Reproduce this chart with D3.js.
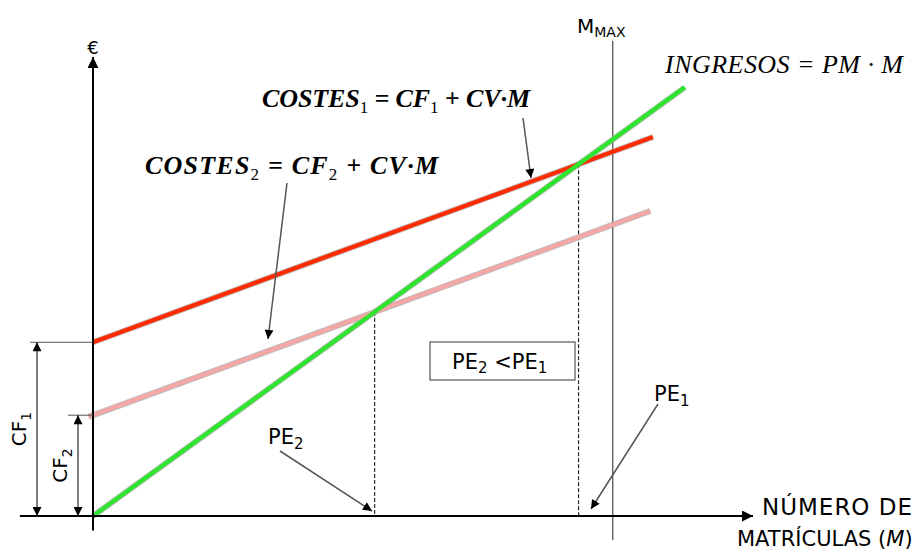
<!DOCTYPE html>
<html>
<head>
<meta charset="utf-8">
<script src="https://cdn.jsdelivr.net/npm/d3@7"></script>
<style>
  body { margin: 0; background: #fff; }
  svg { display: block; }
</style>
</head>
<body>
<div id="chart"></div>
<script>
// Lines of the break-even chart: € = CF + slope * M
const lineKeys = ["costes1", "costes2", "ingresos"];
const fixedCosts = [36.2, 21, 0];      // CF1, CF2, 0
const slopes = [0.42, 0.42, 0.83];     // CV, CV, PM
const startM = [0, -0.8, 0];
const endM = [101.8, 101.3, 107.6];
const lineColors = ["#ff2b00", "#f5a6a6", "#2de52d"];
const mMax = 94.5;

const width = 920, height = 550;

const svg = d3.select("#chart")
    .append("svg")
    .attr("width", width)
    .attr("height", height)
    .style("font-family", "'DejaVu Sans', Verdana, sans-serif");

const x = d3.scaleLinear().domain([0, 120]).range([93, 753]);
const y = d3.scaleLinear().domain([0, 100]).range([516, 36]);

const defs = svg.append("defs");
defs.append("marker")
    .attr("id", "head")
    .attr("viewBox", "0 0 10 10")
    .attr("refX", 10).attr("refY", 5)
    .attr("markerWidth", 11).attr("markerHeight", 11)
    .attr("markerUnits", "userSpaceOnUse")
    .attr("orient", "auto-start-reverse")
    .append("path")
    .attr("d", "M0,0 L10,5 L0,10 Z")
    .attr("fill", "#000");
defs.append("marker")
    .attr("id", "small")
    .attr("viewBox", "0 0 10 10")
    .attr("refX", 10).attr("refY", 5)
    .attr("markerWidth", 10).attr("markerHeight", 9)
    .attr("markerUnits", "userSpaceOnUse")
    .attr("orient", "auto-start-reverse")
    .append("path")
    .attr("d", "M0,0 L10,5 L0,10 Z")
    .attr("fill", "#000");

// MMAX vertical
svg.append("line")
    .attr("x1", x(mMax)).attr("x2", x(mMax))
    .attr("y1", y(99)).attr("y2", y(-5))
    .attr("stroke", "#444").attr("stroke-width", 1.2);

// break-even points
const pe = [0, 1].map(i => fixedCosts[i] / (slopes[2] - slopes[i]));
svg.selectAll("line.pe")
    .data(pe)
    .enter().append("line")
    .attr("class", "pe")
    .attr("x1", d => x(d)).attr("x2", d => x(d))
    .attr("y1", d => y(slopes[2] * d)).attr("y2", y(0))
    .attr("stroke", "#000").attr("stroke-width", 1)
    .attr("stroke-dasharray", "4,2");

// cost / revenue lines
const line = d3.line().x(d => x(d[0])).y(d => y(d[1]));
const lines = lineKeys.map((k, i) => ({
    key: k,
    color: lineColors[i],
    pts: [startM[i], endM[i]].map(m => [m, fixedCosts[i] + slopes[i] * m])
}));
svg.selectAll("path.edge")
    .data(lines)
    .enter().append("path")
    .attr("class", "edge")
    .attr("d", d => line(d.pts))
    .attr("stroke", "#a0a0a0").attr("stroke-opacity", 0.7)
    .attr("stroke-width", 6).attr("fill", "none");
svg.selectAll("path.main")
    .data(lines)
    .enter().append("path")
    .attr("class", "main")
    .attr("d", d => line(d.pts))
    .attr("stroke", d => d.color)
    .attr("stroke-width", 4.2).attr("fill", "none");

// axes
svg.append("line")
    .attr("x1", x(0)).attr("x2", x(0))
    .attr("y1", y(-3)).attr("y2", y(95.6))
    .attr("stroke", "#000").attr("stroke-width", 2)
    .attr("marker-end", "url(#head)");
svg.append("line")
    .attr("x1", x(-13.3)).attr("x2", x(120))
    .attr("y1", y(0)).attr("y2", y(0))
    .attr("stroke", "#000").attr("stroke-width", 2)
    .attr("marker-end", "url(#head)");

svg.append("text")
    .attr("x", x(0)).attr("y", 54)
    .attr("text-anchor", "middle")
    .style("font-size", "18px")
    .text("€");

// CF dimension lines
const cfX = [37, 78], cfLeft = [30, 68];
[0, 1].forEach(i => {
    svg.append("line")
        .attr("x1", cfLeft[i]).attr("x2", x(0))
        .attr("y1", y(fixedCosts[i])).attr("y2", y(fixedCosts[i]))
        .attr("stroke", "#555").attr("stroke-width", 1);
    svg.append("line")
        .attr("x1", cfX[i]).attr("x2", cfX[i])
        .attr("y1", y(fixedCosts[i])).attr("y2", y(0))
        .attr("stroke", "#000").attr("stroke-width", 1)
        .attr("marker-start", "url(#small)")
        .attr("marker-end", "url(#small)");
    const ty = (y(fixedCosts[i]) + y(0)) / 2;
    const t = svg.append("text")
        .attr("transform", `translate(${cfX[i] - 11},${ty}) rotate(-90)`)
        .attr("text-anchor", "middle")
        .style("font-size", "20px");
    t.append("tspan").text("CF");
    t.append("tspan").attr("dy", 5).style("font-size", "14px").text(String(i + 1));
});

// formula labels
function formula(px, py, parts, bold, len) {
    const t = svg.append("text")
        .attr("x", px).attr("y", py)
        .attr("textLength", len)
        .attr("lengthAdjust", "spacing")
        .style("font-family", "'Liberation Serif', 'Times New Roman', serif")
        .style("font-style", "italic")
        .style("font-weight", bold ? "bold" : "normal")
        .style("font-size", "26px");
    parts.forEach(p => {
        const s = t.append("tspan").text(p[0]);
        if (p[1] === "sub") s.attr("dy", 6).style("font-size", "17px").style("font-style", "normal").style("font-weight", "normal");
        if (p[1] === "up") s.attr("dy", -6);
    });
}
formula(262, 107, [["COSTES"], ["1", "sub"], [" = CF", "up"], ["1", "sub"], [" + CV·M", "up"]], true, 268);
formula(145, 174, [["COSTES"], ["2", "sub"], [" = CF", "up"], ["2", "sub"], [" + CV·M", "up"]], true, 293);
formula(665, 73, [["INGRESOS = PM · M"]], false, 238);

// MMAX label
const mm = svg.append("text").attr("x", 577).attr("y", 33).style("font-size", "20px");
mm.append("tspan").text("M");
mm.append("tspan").attr("dy", 4).style("font-size", "14px").text("MAX");

// pointer arrows
function pointer(x1, y1, x2, y2) {
    svg.append("line")
        .attr("x1", x1).attr("y1", y1).attr("x2", x2).attr("y2", y2)
        .attr("stroke", "#555").attr("stroke-width", 1.5)
        .attr("marker-end", "url(#small)");
}
pointer(523, 118, 531, 178);
pointer(287, 183, 268, 339);
pointer(280, 451, 372, 511);
pointer(658, 404, 591, 509);

function peLabel(px, py, n) {
    const t = svg.append("text").attr("x", px).attr("y", py).style("font-size", "21px");
    t.append("tspan").text("PE");
    t.append("tspan").attr("dy", 5).style("font-size", "15px").text(n);
}
peLabel(268, 444, "2");
peLabel(654, 401, "1");

// PE2 < PE1 box
svg.append("rect")
    .attr("x", 430).attr("y", 342).attr("width", 145).attr("height", 38)
    .attr("fill", "#fff").attr("stroke", "#333").attr("stroke-width", 1);
const bt = svg.append("text").attr("x", 452).attr("y", 369).style("font-size", "21px");
bt.append("tspan").text("PE");
bt.append("tspan").attr("dy", 4).style("font-size", "15px").text("2");
bt.append("tspan").attr("dy", -4).text(" <PE");
bt.append("tspan").attr("dy", 4).style("font-size", "15px").text("1");

// x axis title
svg.append("text").attr("x", 762).attr("y", 515)
    .attr("textLength", 150).attr("lengthAdjust", "spacing")
    .style("font-size", "23px").text("NÚMERO DE");
const xt = svg.append("text").attr("x", 737).attr("y", 546)
    .style("font-size", "21px");
xt.append("tspan").text("MATRÍCULAS (");
xt.append("tspan").style("font-style", "italic").text("M");
xt.append("tspan").text(")");
</script>
</body>
</html>
